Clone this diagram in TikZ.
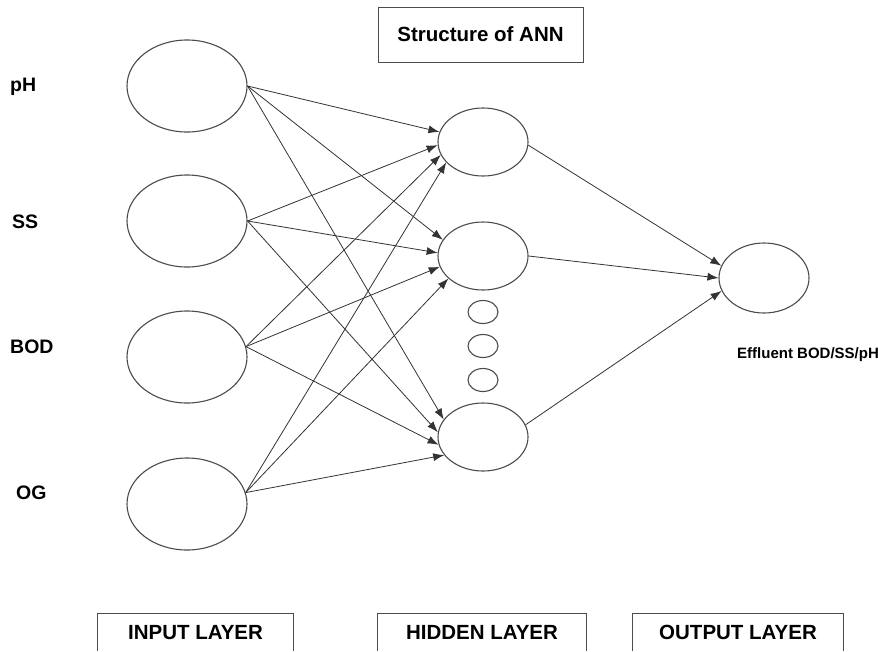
\documentclass[tikz,border=0pt]{standalone}
\usepackage{fontspec}
\setmainfont{Liberation Sans}
\usetikzlibrary{shapes.geometric,arrows.meta}
\begin{document}
\begin{tikzpicture}[x=1pt,y=-1pt,
  neuronin/.style={ellipse,draw=black!70,line width=1.1pt,minimum width=120pt,minimum height=92pt,inner sep=0pt},
  neuronhid/.style={ellipse,draw=black!70,line width=1.1pt,minimum width=90pt,minimum height=68pt,inner sep=0pt},
  dotnode/.style={ellipse,draw=black!70,line width=1.1pt,minimum width=30pt,minimum height=23pt,inner sep=0pt},
  lbl/.style={font=\bfseries\fontsize{19.5}{22}\selectfont,anchor=west,inner sep=0pt},
  wire/.style={draw=black!80,line width=0.8pt,-{Latex[length=11pt,width=8pt]}},
  layerbox/.style={minimum height=37pt,inner sep=0pt,font=\bfseries\fontsize{20.5}{22}\selectfont},
  frame/.style={draw=black!70,line width=1pt}]
\useasboundingbox[fill=white] (0,0) rectangle (878,651);

% title
\node[draw=black!70,line width=1pt,minimum width=205pt,minimum height=55pt,inner sep=0pt,
      font=\bfseries\fontsize{20.5}{22}\selectfont] (title) at (480.5,34.5) {Structure of ANN};

% input layer
\node[neuronin] (pH) at (187,86) {};
\node[neuronin] (SS) at (187,221) {};
\node[neuronin] (BOD) at (187,357) {};
\node[neuronin] (OG) at (187,504) {};

\node[lbl] (lpH) at (10,87) {pH};
\node[lbl] (lSS) at (12,222) {SS};
\node[lbl] (lBOD) at (10,347) {BOD};
\node[lbl] (lOG) at (16,493) {OG};

% hidden layer
\node[neuronhid] (h1) at (483,142) {};
\node[neuronhid] (h2) at (483,256) {};
\node[neuronhid] (h3) at (483,437) {};
\node[dotnode] (d1) at (483,312) {};
\node[dotnode] (d2) at (483,346) {};
\node[dotnode] (d3) at (483,380) {};

% output
\node[ellipse,draw=black!70,line width=1.1pt,minimum width=90pt,minimum height=70pt,inner sep=0pt] (out) at (764,278) {};
\node[font=\bfseries\fontsize{15}{18}\selectfont,anchor=west,inner sep=0pt] (lout) at (737,355) {Effluent BOD/SS/pH};

% input -> hidden 1
\draw[wire] (pH.east) -- (h1.167);
\draw[wire] (SS.east) -- (h1.184);
\draw[wire] (BOD.10) -- (h1.197);
\draw[wire] (OG.11) -- (h1.209);
% input -> hidden 2
\draw[wire] (pH.east) -- (h2.158);
\draw[wire] (SS.east) -- (h2.176);
\draw[wire] (BOD.10) -- (h2.194);
\draw[wire] (OG.11) -- (h2.213);
% input -> hidden 3
\draw[wire] (pH.east) -- (h3.156);
\draw[wire] (SS.east) -- (h3.174);
\draw[wire] (BOD.10) -- (h3.190);
\draw[wire] (OG.11) -- (h3.205);
% hidden -> output
\draw[wire] (h1.356) -- (out.164);
\draw[wire] (h2.east) -- (out.180);
\draw[wire] (h3.16) -- (out.197);

% layer boxes (open at bottom)
\node[layerbox,minimum width=195pt] (inbox) at (195.5,632.5) {INPUT LAYER};
\node[layerbox,minimum width=208pt] (hidbox) at (482,632.5) {HIDDEN LAYER};
\node[layerbox,minimum width=210pt] (outbox) at (738,632.5) {OUTPUT LAYER};
\draw[frame] (inbox.south west) |- (inbox.north east) -- (inbox.south east);
\draw[frame] (hidbox.south west) |- (hidbox.north east) -- (hidbox.south east);
\draw[frame] (outbox.south west) |- (outbox.north east) -- (outbox.south east);
\end{tikzpicture}
\end{document}
